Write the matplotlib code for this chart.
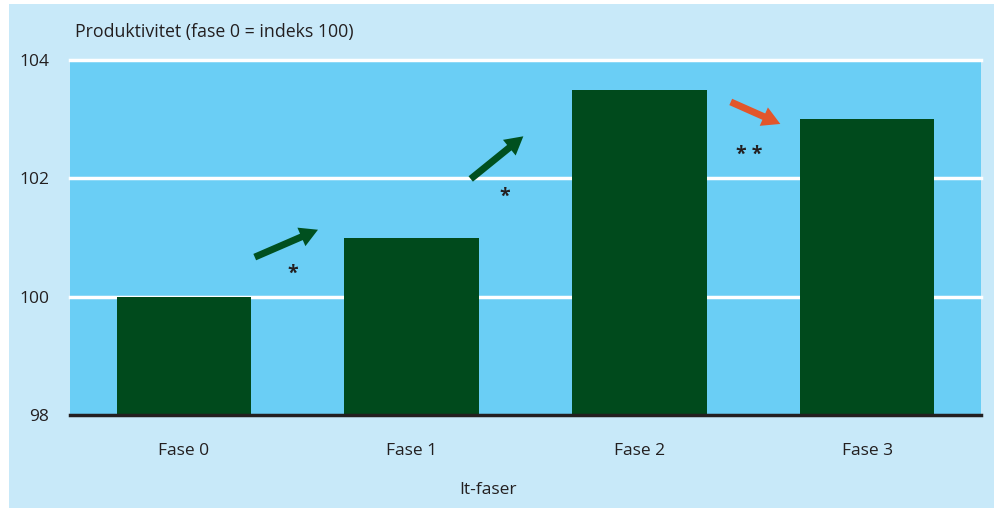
import matplotlib
matplotlib.use('Agg')
import matplotlib.pyplot as plt
from matplotlib.patches import Rectangle, FancyArrowPatch

plt.rcParams['font.family'] = ['Open Sans', 'DejaVu Sans']

faser = ['Fase 0', 'Fase 1', 'Fase 2', 'Fase 3']
produktivitet = [100.0, 101.0, 103.5, 103.0]
yticks = [98, 100, 102, 104]

# arrows between phases: (x0, y0, x1, y1), colour
arrows = [((0.30, 100.65, 0.60, 101.15), '#00501f'),
          ((1.25, 101.96, 1.50, 102.74), '#00501f'),
          ((2.39, 103.31, 2.63, 102.90), '#e2562b')]
stars = [(0.48, 100.38, '*'), (1.41, 101.68, '*'), (2.48, 102.40, '* *')]

fig = plt.figure(figsize=(9.97, 5.08), dpi=100)
fig.patch.set_facecolor('white')
fig.add_artist(Rectangle((9/997, 0), 985/997, 504/508, transform=fig.transFigure,
                         facecolor='#c8e9f9', edgecolor='none', zorder=-10))

ax = fig.add_axes([70/997, 1-415/508, 911/997, 355/508])
ax.set_zorder(1)
ax.set_facecolor('#6acef5')
ax.bar(range(len(faser)), [v - 98 for v in produktivitet], bottom=98, width=0.59,
       color='#004a1c', zorder=3)
for yv in yticks[1:]:
    ax.axhline(yv, color='white', lw=2.5, zorder=2, clip_on=False)
ax.set_xlim(-0.5, 3.5)
ax.set_ylim(98, 104)
ax.set_yticks(yticks)
ax.set_xticks(range(len(faser)))
ax.set_xticklabels(faser)
ax.tick_params(length=0, labelsize=12.5, colors='#231f20')
ax.tick_params(axis='y', pad=15)
ax.tick_params(axis='x', pad=20)
for s in ['top', 'right', 'left']:
    ax.spines[s].set_visible(False)
ax.spines['bottom'].set_linewidth(2.5)
ax.spines['bottom'].set_color('#231f20')
ax.spines['bottom'].set_zorder(5)

for (x0, y0, x1, y1), c in arrows:
    ax.add_patch(FancyArrowPatch((x0, y0), (x1, y1), mutation_scale=10,
                                 arrowstyle='simple,head_length=1.3,head_width=1.45,tail_width=0.5',
                                 color=c, lw=0, zorder=4))
for x, y, s in stars:
    ax.text(x, y, s, ha='center', va='center', fontsize=14, fontweight='bold',
            color='#231f20', zorder=4)

fig.text(75/997, 1-32/508, 'Produktivitet (fase 0 = indeks 100)', ha='left', va='center',
         fontsize=12.8, color='#231f20')
fig.text(488/997, 1-490/508, 'It-faser', ha='center', va='center', fontsize=12.5, color='#231f20')

fig.savefig('out.png', dpi=100, facecolor=fig.get_facecolor())
